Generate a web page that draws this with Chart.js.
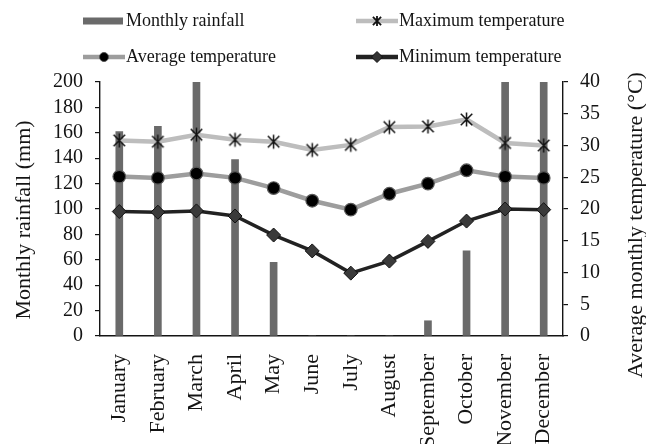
<!DOCTYPE html>
<html>
<head>
<meta charset="utf-8">
<script src="https://cdn.jsdelivr.net/npm/chart.js@4"></script>
<style>
  html, body { margin: 0; padding: 0; background: #fff; }
  canvas { display: block; }
</style>
</head>
<body>
<canvas id="climate" width="646" height="444"></canvas>
<script>
// Monthly climate data
const months = ['January', 'February', 'March', 'April', 'May', 'June',
                'July', 'August', 'September', 'October', 'November', 'December'];
const rainfall = [161, 165, 200, 139, 58, 0, 0, 0, 12, 67, 200, 200];       // mm
const tempMax  = [30.8, 30.6, 31.7, 30.9, 30.6, 29.3, 30.1, 32.9, 33.0, 34.1, 30.4, 30.0]; // °C
const tempAvg  = [25.1, 24.9, 25.6, 24.9, 23.3, 21.3, 19.9, 22.4, 24.0, 26.1, 25.1, 24.9]; // °C
const tempMin  = [19.6, 19.5, 19.7, 18.9, 15.9, 13.4, 9.9, 11.8, 14.9, 18.1, 20.0, 19.9];  // °C
const rainTicks = [0, 20, 40, 60, 80, 100, 120, 140, 160, 180, 200];
const tempTicks = [0, 5, 10, 15, 20, 25, 30, 35, 40];

const seriesNames = ['Monthly rainfall', 'Maximum temperature', 'Average temperature', 'Minimum temperature'];
const axisTitles = ['Monthly rainfall (mm)', 'Average monthly temperature (°C)'];

const SERIF = '"Liberation Serif", "Times New Roman", serif';
const INK = '#141414';
const BAR_COLOR = '#6a6a6a';
const MAX_COLOR = '#bdbdbd';
const AVG_COLOR = '#9d9d9d';
const MIN_COLOR = '#222222';

// Asterisk marker (X with a vertical stroke) rendered once to an offscreen canvas
function asteriskMark(r, lw) {
  const s = Math.ceil(2 * r + 2 * lw);
  const c = document.createElement('canvas');
  c.width = s; c.height = s;
  const g = c.getContext('2d');
  const m = s / 2, d = r * 0.82;
  g.strokeStyle = '#111';
  g.lineWidth = lw;
  g.beginPath();
  g.moveTo(m, m - r); g.lineTo(m, m + r);
  g.moveTo(m - d, m - d); g.lineTo(m + d, m + d);
  g.moveTo(m + d, m - d); g.lineTo(m - d, m + d);
  g.stroke();
  return c;
}
const starPoint = asteriskMark(7, 1.5);
const starLegend = asteriskMark(5, 1.8);

// Two-column legend drawn above the plot
const gridLegend = {
  id: 'gridLegend',
  afterDraw(chart) {
    const ctx = chart.ctx;
    const cols = [83, 356];
    const rows = [21, 57];
    const swatchW = 42;
    const items = [
      { name: seriesNames[0], col: 0, row: 0, kind: 'bar' },
      { name: seriesNames[1], col: 1, row: 0, kind: 'max' },
      { name: seriesNames[2], col: 0, row: 1, kind: 'avg' },
      { name: seriesNames[3], col: 1, row: 1, kind: 'min' }
    ];
    ctx.save();
    items.forEach(it => {
      const x = cols[it.col], y = rows[it.row], cx = x + swatchW / 2;
      if (it.kind === 'bar') {
        ctx.fillStyle = BAR_COLOR;
        ctx.fillRect(x, y - 3.5, swatchW - 2, 7);
      } else {
        ctx.strokeStyle = it.kind === 'max' ? MAX_COLOR : it.kind === 'avg' ? AVG_COLOR : MIN_COLOR;
        ctx.lineWidth = 4.5;
        ctx.beginPath(); ctx.moveTo(x, y); ctx.lineTo(x + swatchW, y); ctx.stroke();
        if (it.kind === 'max') {
          ctx.drawImage(starLegend, cx - starLegend.width / 2, y - starLegend.height / 2);
        } else if (it.kind === 'avg') {
          ctx.fillStyle = '#000'; ctx.strokeStyle = '#555'; ctx.lineWidth = 1;
          ctx.beginPath(); ctx.arc(cx, y, 4.5, 0, Math.PI * 2); ctx.fill(); ctx.stroke();
        } else {
          ctx.fillStyle = '#333'; ctx.strokeStyle = '#111'; ctx.lineWidth = 1;
          ctx.beginPath();
          ctx.moveTo(cx, y - 5.5); ctx.lineTo(cx + 5.5, y); ctx.lineTo(cx, y + 5.5); ctx.lineTo(cx - 5.5, y);
          ctx.closePath(); ctx.fill(); ctx.stroke();
        }
      }
      ctx.fillStyle = INK;
      ctx.font = '18px ' + SERIF;
      ctx.textAlign = 'left';
      ctx.textBaseline = 'middle';
      ctx.fillText(it.name, x + swatchW + 1, y);
    });
    ctx.restore();
  }
};

// Vertical axis titles, both reading bottom-to-top
const axisTitlePlugin = {
  id: 'axisTitlePlugin',
  afterDraw(chart) {
    const { ctx, chartArea } = chart;
    const midY = (chartArea.top + chartArea.bottom) / 2;
    const draw = (text, x, y) => {
      ctx.save();
      ctx.translate(x, y);
      ctx.rotate(-Math.PI / 2);
      ctx.font = '22px ' + SERIF;
      ctx.fillStyle = INK;
      ctx.textAlign = 'center';
      ctx.textBaseline = 'middle';
      ctx.fillText(text, 0, 0);
      ctx.restore();
    };
    draw(axisTitles[0], chartArea.left - 76, midY + 11);
    draw(axisTitles[1], chartArea.right + 73, midY + 16);
  }
};

const fixedTicks = values => scale => { scale.ticks = values.map(v => ({ value: v })); };

new Chart(document.getElementById('climate'), {
  data: {
    labels: months,
    datasets: [
      {
        type: 'bar', label: seriesNames[0], data: rainfall, yAxisID: 'y', order: 4,
        backgroundColor: BAR_COLOR, barThickness: 7
      },
      {
        type: 'line', label: seriesNames[1], data: tempMax, yAxisID: 'y1', order: 1,
        borderColor: MAX_COLOR, borderWidth: 4.5, tension: 0,
        pointStyle: starPoint, pointRadius: 7
      },
      {
        type: 'line', label: seriesNames[2], data: tempAvg, yAxisID: 'y1', order: 2,
        borderColor: AVG_COLOR, borderWidth: 4.5, tension: 0,
        pointStyle: 'circle', pointRadius: 6.3,
        pointBackgroundColor: '#000', pointBorderColor: '#5a5a5a', pointBorderWidth: 1.2
      },
      {
        type: 'line', label: seriesNames[3], data: tempMin, yAxisID: 'y1', order: 3,
        borderColor: MIN_COLOR, borderWidth: 3.5, tension: 0,
        pointStyle: 'rectRot', pointRadius: 7,
        pointBackgroundColor: '#3a3a3a', pointBorderColor: '#111', pointBorderWidth: 1
      }
    ]
  },
  options: {
    responsive: false,
    animation: false,
    layout: { padding: { top: 82, left: 0, right: 0, bottom: 0 } },
    plugins: { legend: { display: false }, tooltip: { enabled: false } },
    scales: {
      x: {
        grid: { display: false },
        border: { display: true, color: INK, width: 1.4 },
        ticks: {
          color: INK, font: { family: SERIF, size: 22 },
          minRotation: 90, maxRotation: 90, padding: 10, autoSkip: false
        },
        afterFit: s => { s.height = 108; }
      },
      y: {
        position: 'left', min: 0, max: 200,
        afterBuildTicks: fixedTicks(rainTicks),
        grid: { drawOnChartArea: false, color: INK, tickLength: 5, lineWidth: 1.2 },
        border: { color: INK, width: 1.4 },
        ticks: { color: INK, font: { family: SERIF, size: 20 }, padding: 12, autoSkip: false },
        afterFit: s => { s.width = 100; }
      },
      y1: {
        position: 'right', min: 0, max: 40,
        afterBuildTicks: fixedTicks(tempTicks),
        grid: { drawOnChartArea: false, color: INK, tickLength: 5, lineWidth: 1.2 },
        border: { color: INK, width: 1.4 },
        ticks: { color: INK, font: { family: SERIF, size: 20 }, padding: 12, autoSkip: false },
        afterFit: s => { s.width = 83; }
      }
    }
  },
  plugins: [gridLegend, axisTitlePlugin]
});
</script>
</body>
</html>
